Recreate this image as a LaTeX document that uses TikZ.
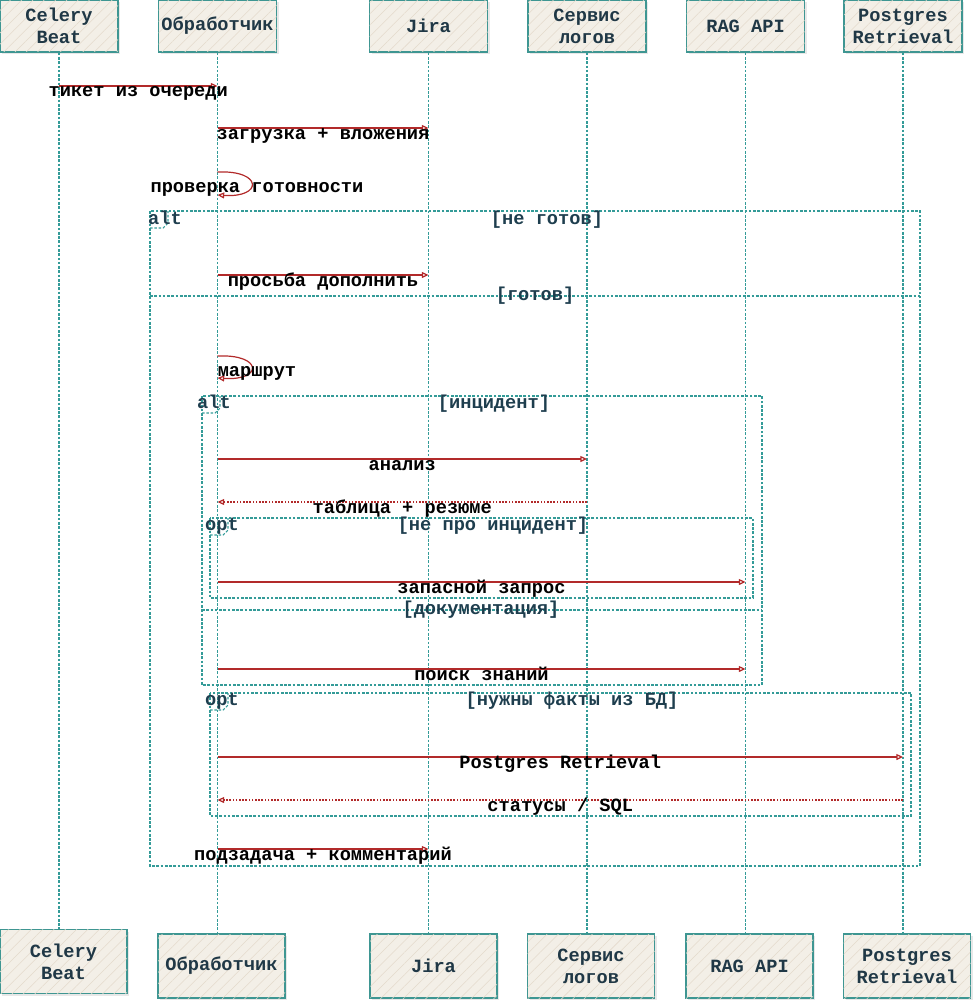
\documentclass[tikz,border=0pt]{standalone}
\usepackage{fontspec}
\setmainfont{Liberation Mono}
\usetikzlibrary{arrows.meta,patterns.meta,shadows}
\definecolor{lineteal}{RGB}{52,155,152}
\definecolor{boxline}{RGB}{62,150,146}
\definecolor{boxfill}{RGB}{243,239,231}
\definecolor{hatch}{RGB}{228,218,204}
\definecolor{actortext}{RGB}{32,56,70}
\definecolor{msgred}{RGB}{178,42,42}
\definecolor{frametext}{RGB}{30,62,78}
\begin{document}
\begin{tikzpicture}[x=0.75pt,y=-0.75pt,
  actor/.style={draw=boxline, line width=1.1pt, fill=boxfill, align=center,
    font=\fontsize{14}{16.5}\selectfont\bfseries, text=actortext, inner sep=0pt,
    drop shadow={opacity=0.18,shadow xshift=1.5pt,shadow yshift=-1.5pt},
    postaction={pattern={Lines[angle=45,distance=6pt,line width=0.4pt]}, pattern color=hatch}},
  topbox/.style={actor, minimum width=88.5pt, minimum height=39pt},
  botbox/.style={actor, minimum width=95.25pt, minimum height=48pt},
  lifeline/.style={draw=lineteal, line width=0.8pt, dash pattern=on 2pt off 1.2pt},
  msg/.style={draw=msgred, line width=0.9pt, -{Triangle[open,length=5pt,width=4.5pt]}},
  reply/.style={msg, dash pattern=on 1.2pt off 1.2pt},
  mlabel/.style={font=\fontsize{14}{16}\selectfont\bfseries, text=black, inner sep=0pt, anchor=base},
  frame/.style={draw=lineteal, line width=0.8pt, dash pattern=on 2pt off 1.2pt},
  flabel/.style={font=\fontsize{14}{16}\selectfont\bfseries, text=frametext, inner sep=0pt, anchor=base}
]
\useasboundingbox (0,0) rectangle (974,1006);

% participants top
\node[topbox] (cbT) at (59,26) {Celery\\Beat};
\node[topbox] (obT) at (217.5,26) {Обработчик};
\node[topbox] (jiT) at (428.5,26) {Jira};
\node[topbox] (slT) at (587,26) {Сервис\\логов};
\node[topbox] (raT) at (745.5,26) {RAG API};
\node[topbox] (pgT) at (903,26) {Postgres\\Retrieval};

% participants bottom
\node[botbox] (cbB) at (63.5,961.5) {Celery\\Beat};
\node[botbox] (obB) at (221.5,966) {Обработчик};
\node[botbox] (jiB) at (433.5,966) {Jira};
\node[botbox] (slB) at (591,966) {Сервис\\логов};
\node[botbox] (raB) at (749.5,966) {RAG API};
\node[botbox] (pgB) at (907,966) {Postgres\\Retrieval};

% lifelines
\foreach \t/\b in {cbT/cbB,obT/obB,jiT/jiB,slT/slB,raT/raB,pgT/pgB}
  \draw[lifeline] (\t.south) -- (\t.south |- \b.north);

% frames
\draw[frame] (150,211) rectangle (920,866);
\draw[frame] (150,296) -- (920,296);
\draw[frame] (150,228) -- (163,228) -- (168,223) -- (168,211);
\node[flabel] (altA) at (165,224) {alt};
\node[flabel] (ngA) at (547,224) {[не готов]};
\node[flabel] (gA) at (535,300) {[готов]};

\draw[frame] (202,396) rectangle (762,685);
\draw[frame] (202,610) -- (762,610);
\draw[frame] (202,413) -- (215,413) -- (220,408) -- (220,396);
\node[flabel] (altB) at (214,408) {alt};
\node[flabel] (incB) at (494,408) {[инцидент]};
\node[flabel] (docB) at (481,614) {[документация]};

\draw[frame] (210,518) rectangle (753,598);
\draw[frame] (210,535) -- (223,535) -- (228,530) -- (228,518);
\node[flabel] (optC) at (222,530) {opt};
\node[flabel] (npC) at (493,530) {[не про инцидент]};

\draw[frame] (210,693) rectangle (911,816);
\draw[frame] (210,710) -- (223,710) -- (228,705) -- (228,693);
\node[flabel] (optD) at (222,705) {opt};
\node[flabel] (dbD) at (572,705) {[нужны факты из БД]};

% messages
\draw[msg] (cbT.south |- 0,86) -- node[mlabel, yshift=-8.25pt]{тикет из очереди} (obT.south |- 0,86);
\draw[msg] (obT.south |- 0,128) -- node[mlabel, yshift=-8.25pt]{загрузка + вложения} (jiT.south |- 0,128);
\draw[msg] (obT.south |- 0,172) .. controls (263,170) and (263,198) .. (obT.south |- 0,195);
\node[mlabel] (selfA) at (257,192) {проверка готовности};
\draw[msg] (obT.south |- 0,275) -- node[mlabel, yshift=-8.25pt]{просьба дополнить} (jiT.south |- 0,275);
\draw[msg] (obT.south |- 0,356) .. controls (263,354) and (263,381) .. (obT.south |- 0,378);
\node[mlabel] (selfB) at (257,376) {маршрут};
\draw[msg] (obT.south |- 0,459) -- node[mlabel, yshift=-8.25pt]{анализ} (slT.south |- 0,459);
\draw[reply] (slT.south |- 0,502) -- node[mlabel, yshift=-8.25pt]{таблица + резюме} (obT.south |- 0,502);
\draw[msg] (obT.south |- 0,582) -- node[mlabel, yshift=-8.25pt]{запасной запрос} (raT.south |- 0,582);
\draw[msg] (obT.south |- 0,669) -- node[mlabel, yshift=-8.25pt]{поиск знаний} (raT.south |- 0,669);
\draw[msg] (obT.south |- 0,757) -- node[mlabel, yshift=-8.25pt]{Postgres Retrieval} (pgT.south |- 0,757);
\draw[reply] (pgT.south |- 0,800) -- node[mlabel, yshift=-8.25pt]{статусы / SQL} (obT.south |- 0,800);
\draw[msg] (obT.south |- 0,849) -- node[mlabel, yshift=-8.25pt]{подзадача + комментарий} (jiT.south |- 0,849);
\end{tikzpicture}
\end{document}
